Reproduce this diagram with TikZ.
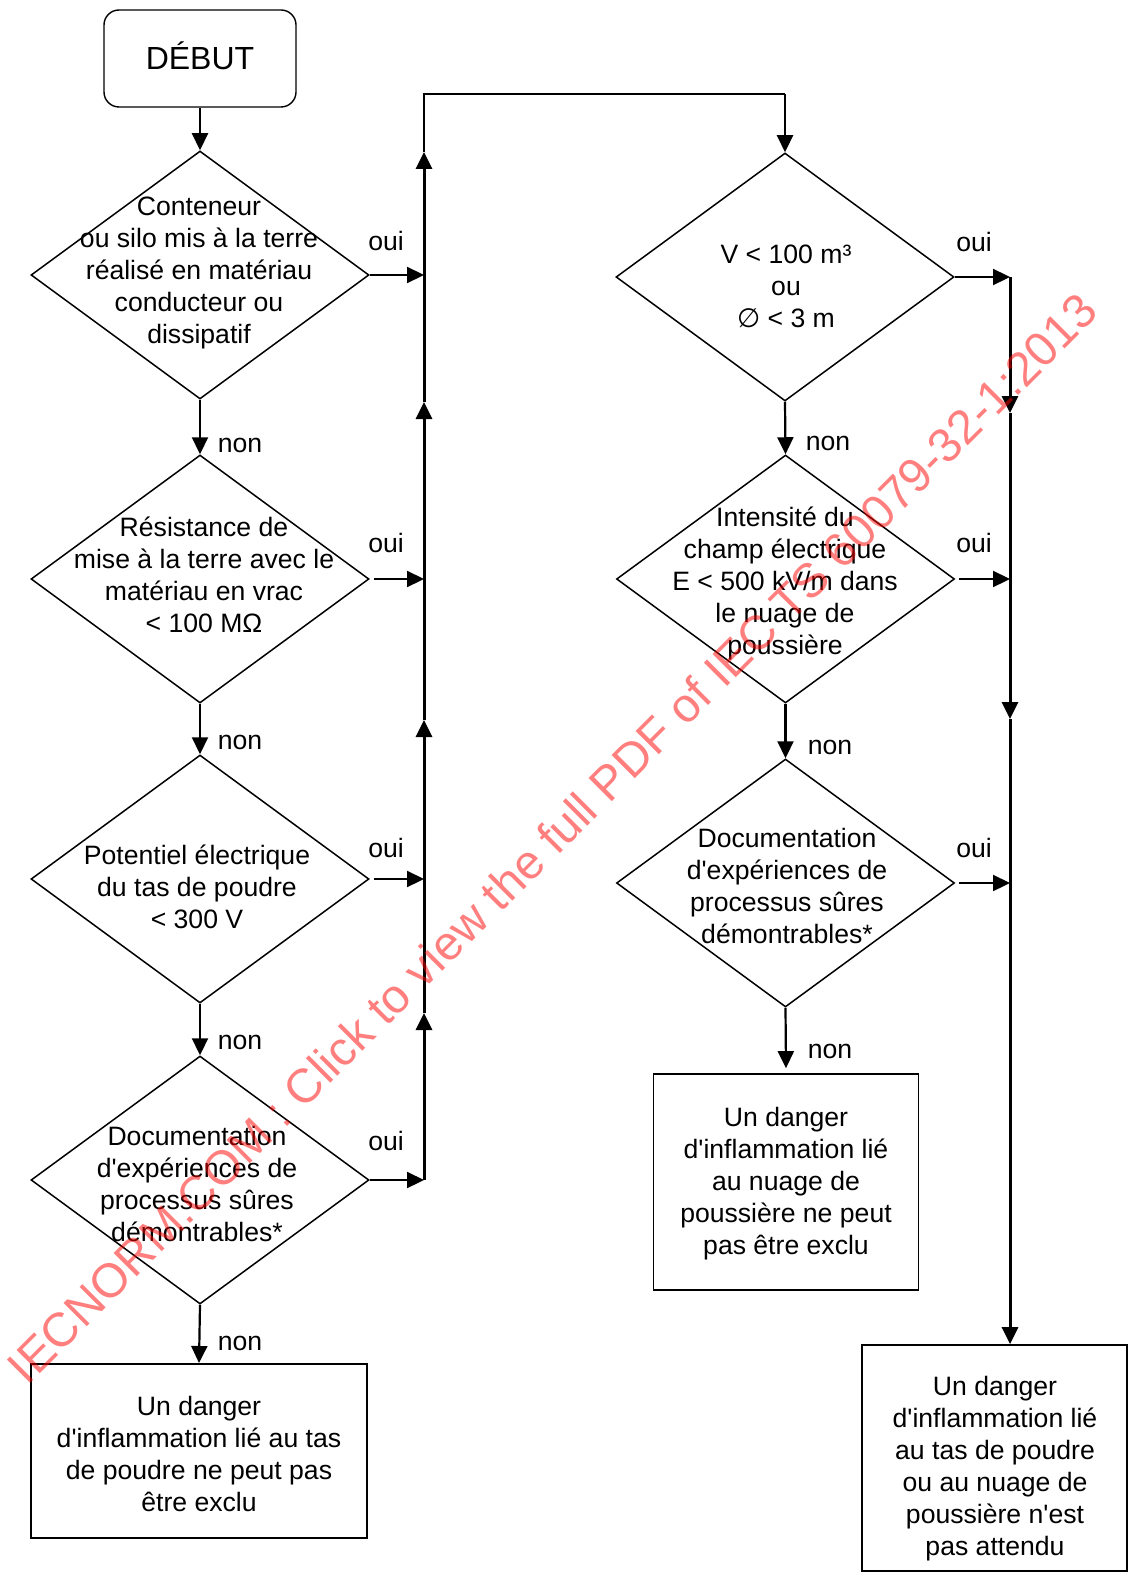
\documentclass[tikz,border=0pt]{standalone}
\usepackage{fontspec}
\setmainfont{Liberation Sans}
\newfontfamily\symfont{DejaVu Sans}
\usepackage{tikz}
\usetikzlibrary{shapes.geometric, arrows.meta}

\newcommand{\ap}{\textquotesingle}

\tikzset{
  beginbox/.style={draw, rounded corners=7.5pt, line width=0.7pt, minimum width=96pt, minimum height=48.5pt,
    inner sep=0pt, font=\fontsize{16}{19}\selectfont, text height=11.5pt, text depth=0pt},
  decision/.style={diamond, draw, line width=0.75pt, minimum width=169pt, minimum height=124pt, inner sep=0pt},
  outbox/.style={draw, line width=0.85pt, inner sep=0pt},
  txt/.style={align=center, inner sep=0pt, font=\fontsize{13.3}{16}\selectfont,
    execute at begin node={\rule[-4.8pt]{0pt}{16pt}}, execute at end node={\rule[-4.8pt]{0pt}{16pt}}},
  lbl/.style={inner sep=0pt, anchor=base, font=\fontsize{13.3}{16}\selectfont},
  arr/.style={-{Triangle[length=8.5pt,width=8pt]}, line width=1.1pt},
  bus/.style={-{Triangle[length=8.5pt,width=8pt]}, line width=1.5pt},
  wmark/.style={text=red, text opacity=0.5, inner sep=0pt, font=\fontsize{23.9}{28}\selectfont}
}

\begin{document}
\begin{tikzpicture}[x=0.5pt, y=-0.5pt]
\useasboundingbox (0,0) rectangle (1129,1573);

% left column
\node[beginbox] (debut) at (200,58.5) {DÉBUT};
\node[decision] (d1) at (200,275) {};
\node[decision] (d2) at (200,579) {};
\node[decision] (d3) at (200,879) {};
\node[decision] (d4) at (200,1180) {};
\node[outbox, line width=1pt, minimum width=168pt, minimum height=87pt] (bleft) at (199,1451) {};

\node[txt] (t1) at (199,275) {Conteneur\\ou silo mis à la terre\\réalisé en matériau\\conducteur ou\\dissipatif};
\node[txt] (t2) at (204,580) {Résistance de\\mise à la terre avec le\\matériau en vrac\\< 100 MΩ};
\node[txt] (t3) at (197,891) {Potentiel électrique\\du tas de poudre\\< 300 V};
\node[txt] (t4) at (197,1189) {Documentation\\d\ap expériences de\\processus sûres\\démontrables*};
\node[txt] (t8) at (199,1459) {Un danger\\d\ap inflammation lié au tas\\de poudre ne peut pas\\être exclu};

% right column
\node[decision] (d5) at (785,277) {};
\node[decision] (d6) at (785.5,579) {};
\node[decision] (d7) at (785.5,883) {};
\node[outbox, minimum width=132.5pt, minimum height=108pt] (bmid) at (786,1182) {};
\node[outbox, minimum width=132.5pt, minimum height=113pt] (bright) at (994.5,1458) {};

\node[txt] (t5) at (786,291) {V < 100 m³\\ou\\{\symfont ∅} < 3 m};
\node[txt] (t6) at (785,586) {Intensité du\\champ électrique\\E < 500 kV/m dans\\le nuage de\\poussière};
\node[txt] (t7) at (787,891) {Documentation\\d\ap expériences de\\processus sûres\\démontrables*};
\node[txt] (t9) at (786,1186) {Un danger\\d\ap inflammation lié\\au nuage de\\poussière ne peut\\pas être exclu};
\node[txt] (t10) at (995,1471) {Un danger\\d\ap inflammation lié\\au tas de poudre\\ou au nuage de\\poussière n\ap est\\pas attendu};

% non
\draw[arr] (debut.south) -- (d1.north);
\draw[arr] (d1.south) -- (d2.north);
\draw[arr] (d2.south) -- (d3.north);
\draw[arr] (d3.south) -- (d4.north);
\draw[arr] (d4.south) -- (bleft.north);
\draw[arr] (d5.south) -- (d6.north);
\draw[arr] (d6.south) -- (d7.north);
\draw[arr] (d7.south) -- ([yshift=2.5pt]bmid.north);

\node[lbl] (n1) at (240,452) {non};
\node[lbl] (n2) at (240,749) {non};
\node[lbl] (n3) at (240,1049) {non};
\node[lbl] (n4) at (240,1350) {non};
\node[lbl] (n5) at (828,450) {non};
\node[lbl] (n6) at (830,754) {non};
\node[lbl] (n7) at (830,1058) {non};

% left bus, upwards
\coordinate (ltop) at (424,94);
\coordinate (lu1) at (424,1013);
\coordinate (lu2) at (424,720);
\coordinate (lu3) at (424,402);
\coordinate (lu4) at (424,152);
\coordinate (rtop) at (785,94);

\draw[arr] (d1.east) -- (d1.east -| ltop);
\draw[arr] ([xshift=2pt]d2.east) -- (d2.east -| ltop);
\draw[arr] ([xshift=2pt]d3.east) -- (d3.east -| ltop);
\draw[arr] (d4.east) -- (d4.east -| ltop);
\draw[bus] (d4.east -| ltop) -- (lu1);
\draw[bus] (lu1) -- (lu2);
\draw[bus] (lu2) -- (lu3);
\draw[bus] (lu3) -- (lu4);
\draw[line width=0.95pt] (lu4) -- (ltop) -- (rtop);
\draw[arr] (rtop) -- (d5.north);

\node[lbl] (o1) at (386,250) {oui};
\node[lbl] (o2) at (386,552) {oui};
\node[lbl] (o3) at (386,857) {oui};
\node[lbl] (o4) at (386,1150) {oui};

% right bus, downwards
\coordinate (ru0) at (1010,277);
\coordinate (ru1) at (1010,413);
\coordinate (ru2) at (1010,719);

\draw[arr] (d5.east) -- (d5.east -| ru0);
\draw[arr] ([xshift=2pt]d6.east) -- (d6.east -| ru0);
\draw[arr] ([xshift=2pt]d7.east) -- (d7.east -| ru0);
\draw[bus] (ru0) -- (ru1);
\draw[bus] (ru1) -- (ru2);
\draw[bus] (ru2) -- (bright.north -| ru0);

\node[lbl] (o5) at (974,251) {oui};
\node[lbl] (o6) at (974,552) {oui};
\node[lbl] (o7) at (974,857) {oui};

% watermark
\node[wmark, rotate=45, anchor=base] (wm) at (564,850) {IECNORM.COM : Click to view the full PDF of IEC TS 60079-32-1:2013};
\end{tikzpicture}
\end{document}
